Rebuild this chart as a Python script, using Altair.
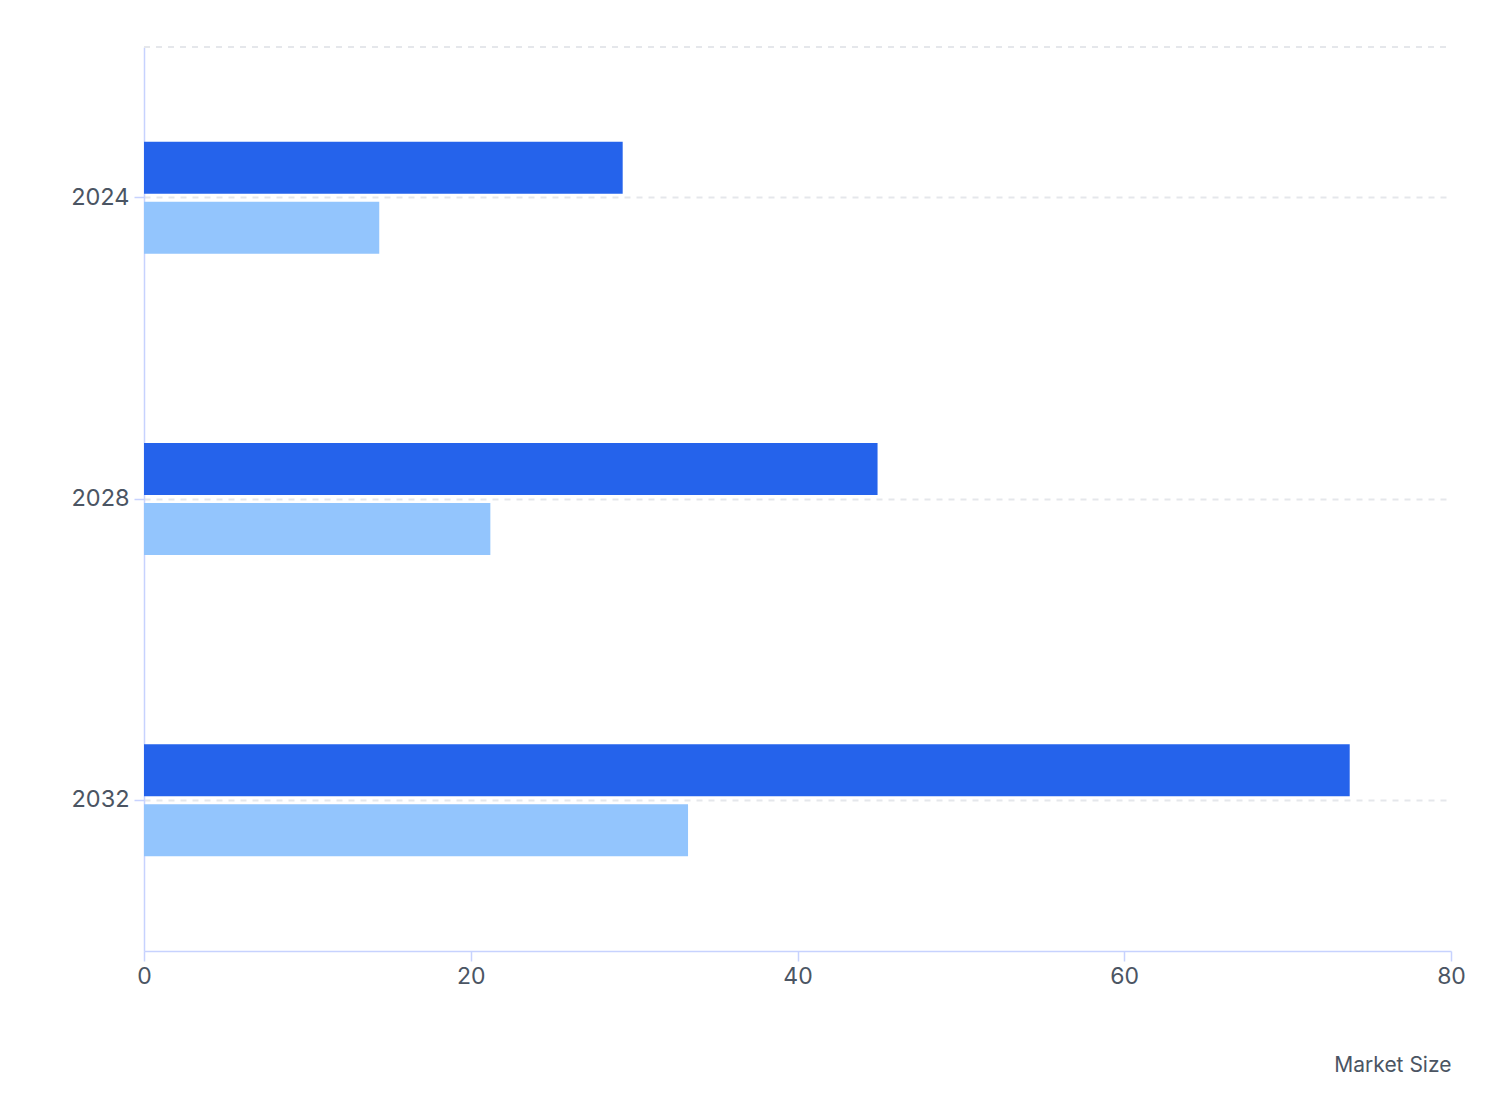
import altair as alt
import pandas as pd

years = ["2024", "2028", "2032"]
series = ["Series A", "Series B"]
series_a = [29.3, 44.9, 73.8]
series_b = [14.4, 21.2, 33.3]
colors = ["#2563eb", "#93c5fd"]

rows = []
for i, y in enumerate(years):
    rows.append({"Year": y, "Series": series[0], "Market Size": series_a[i]})
    rows.append({"Year": y, "Series": series[1], "Market Size": series_b[i]})
df = pd.DataFrame(rows)

W, H = 1307, 904
FONT = "Inter"
PI = 1 - 112 / (904 / 3)
AXC = "#c7d2fe"
TXT = "#4b5563"
GRID = "#e5e7eb"

bars = alt.Chart(df).mark_bar().encode(
    x=alt.X("Market Size:Q",
            scale=alt.Scale(domain=[0, 80], nice=False),
            axis=alt.Axis(values=[0, 20, 40, 60, 80], grid=False,
                          domainColor=AXC, tickColor=AXC, domainWidth=1.5,
                          tickWidth=1.5, labelFlush=False,
                          tickSize=10, labelPadding=4, labelFontSize=23,
                          labelColor=TXT, labelFont=FONT,
                          title="Market Size", titleFont=FONT, titleFontSize=21,
                          titleFontWeight="normal", titleColor=TXT,
                          titleAnchor="end", titleAlign="right", titleX=W,
                          titleY=114, titleBaseline="middle")),
    y=alt.Y("Year:N", sort=years,
            scale=alt.Scale(paddingInner=PI, paddingOuter=PI / 2),
            axis=alt.Axis(grid=True, gridDash=[6, 6], gridColor=GRID, gridWidth=2,
                          domainColor=AXC, tickColor=AXC, domainWidth=1.5,
                          tickWidth=1.5,
                          tickSize=10, labelPadding=5, labelFontSize=23.5,
                          labelColor=TXT, labelFont=FONT, title=None)),
    yOffset=alt.YOffset("Series:N", sort=series,
                        scale=alt.Scale(paddingInner=8 / 60, paddingOuter=0)),
    color=alt.Color("Series:N", sort=series,
                    scale=alt.Scale(domain=series, range=colors), legend=None),
)

top = alt.Chart(pd.DataFrame({"v": [0]})).mark_rule(
    color=GRID, strokeDash=[6, 6], strokeWidth=2
).encode(x=alt.value(0), x2=alt.value(W - 4), y=alt.value(0))

chart = alt.layer(top, bars).properties(
    width=W, height=H,
    background="white",
    autosize=alt.AutoSizeParams(type="none"),
    padding={"left": 136, "top": 39, "right": 40, "bottom": 160},
).configure_view(strokeWidth=0, strokeOpacity=0)

chart.save("out.html", embed_options={"renderer": "svg", "actions": False})
